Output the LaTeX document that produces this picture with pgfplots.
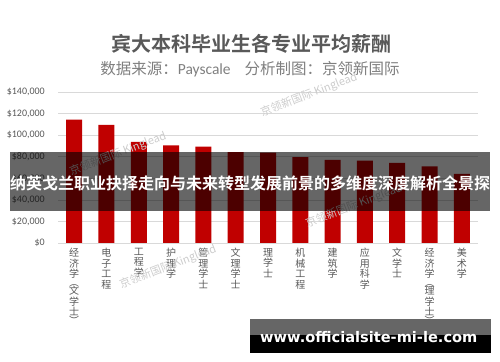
\documentclass[border=0pt]{standalone}
\usepackage{fontspec}
\usepackage{pgfplots}
\pgfplotsset{compat=1.18}
\setmainfont{Noto Sans CJK SC}[BoldFont={Noto Sans CJK SC Bold}]
\newfontfamily\carlito{Carlito}
\newfontfamily\dejab{DejaVu Sans Bold}
\definecolor{barred}{HTML}{C00000}
\definecolor{gridgray}{HTML}{D9D9D9}
\definecolor{labgray}{HTML}{595959}
\definecolor{titlegray}{HTML}{595959}
\definecolor{subgray}{HTML}{7F7F7F}
\begin{document}
\begin{tikzpicture}
\path[use as bounding box] (0,0) rectangle (500bp,362bp);
\begin{axis}[
  at={(58bp,119bp)}, anchor=south west,
  scale only axis, width=420bp, height=150.7bp,
  xmin=-0.5, xmax=12.5, ymin=0, ymax=140000,
  axis line style={draw=none},
  major tick style={draw=none},
  scaled y ticks=false,
  ymajorgrids, grid style={draw=gridgray, line width=0.8bp},
  ytick={0,20000,40000,60000,80000,100000,120000,140000},
  yticklabels={{\$0},{\$20,000},{\$40,000},{\$60,000},{\$80,000},{\$100,000},{\$120,000},{\$140,000}},
  yticklabel style={font=\carlito\fontsize{10bp}{12bp}\selectfont, text=labgray, anchor=east, inner sep=0pt, xshift=-13bp},
  xtick={0,1,2,3,4,5,6,7,8,9,10,11,12},
  xticklabels={
    {经\\济\\学\\[-2bp]︵\\[-2bp]文\\学\\士\\[-2bp]︶},
    {电\\子\\工\\程},
    {工\\程\\学},
    {护\\理\\学},
    {管\\理\\学\\士},
    {文\\理\\学\\士},
    {理\\学\\士},
    {机\\械\\工\\程},
    {建\\筑\\学},
    {应\\用\\科\\学},
    {文\\学\\士},
    {经\\济\\学\\[-2bp]︵\\[-2bp]理\\学\\士\\[-2bp]︶},
    {美\\术\\学}},
  xticklabel style={font=\fontsize{10bp}{10.5bp}\selectfont, text=labgray, anchor=north, inner sep=0pt, yshift=-5bp, align=center},
]
\addplot[ybar, bar width=16bp, fill=barred, draw=none] coordinates {
  (0,114500) (1,109700) (2,93900) (3,90800) (4,89500) (5,84400) (6,84000)
  (7,79700) (8,77200) (9,76500) (10,74400) (11,71300) (12,64200)
};
\end{axis}
\foreach \x/\y in {118/208, 309/267, 168/95, 354/156}
  \node[rotate=21, text=black!20, font=\fontsize{11bp}{11bp}\selectfont] at (\x bp,\y bp) {京领新国际 Kinglead};
\node[text=titlegray, font=\bfseries\fontsize{20bp}{20bp}\selectfont] at (251bp,318bp) {宾大本科毕业生各专业平均薪酬};
\node[text=subgray, font=\fontsize{15.5bp}{16bp}\selectfont] at (250bp,293bp) {数据来源：{\carlito Payscale}\hspace{14bp}分析制图：京领新国际};
\fill[black, opacity=0.6] (10bp,151bp) rectangle (490bp,210.3bp);
\node[text=white, inner sep=0pt, font=\bfseries\fontsize{16bp}{16bp}\selectfont] at (250bp,179bp) {纳英戈兰职业抉择走向与未来转型发展前景的多维度深度解析全景探};
\fill[black, opacity=0.6] (250bp,27bp) rectangle (491bp,43bp);
\fill[black] (250bp,9.3bp) rectangle (491bp,27bp);
\node[text=white, font=\dejab\fontsize{14.6bp}{15bp}\selectfont, anchor=base west, inner sep=0pt] at (260bp,20bp) {www.officialsite-mi-le.com};
\end{tikzpicture}
\end{document}
